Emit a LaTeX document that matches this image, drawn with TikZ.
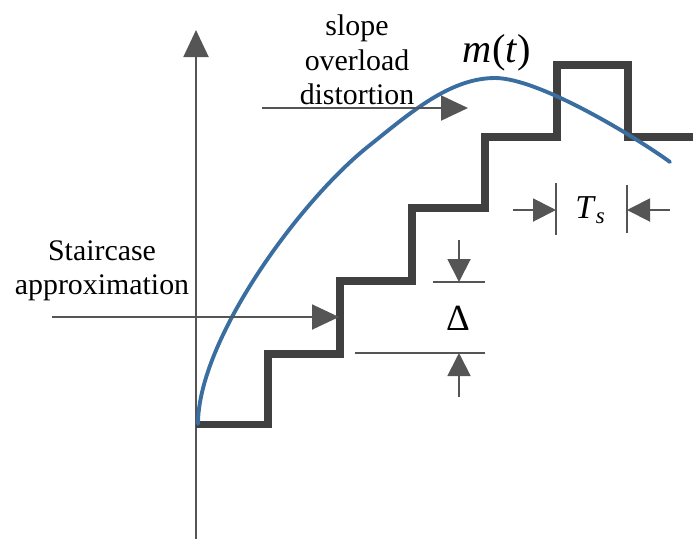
\documentclass[tikz,border=0pt]{standalone}
\usepackage{fontspec}
\setmainfont{Liberation Serif}
\usepackage{tikz}
\usetikzlibrary{arrows.meta}
\definecolor{stairgray}{RGB}{64,64,64}
\definecolor{linegray}{RGB}{85,85,85}
\definecolor{curveblue}{RGB}{58,110,160}
\tikzset{
  thinline/.style={draw=linegray, line width=1.1pt},
  pointer/.style={thinline, -{Triangle[length=5.4mm,width=5mm]}, color=linegray},
  smallpointer/.style={thinline, -{Triangle[length=4.6mm,width=4.6mm]}, color=linegray},
  stair/.style={draw=stairgray, line width=4pt, line join=miter},
  signal/.style={draw=curveblue, line width=2.2pt, line cap=round},
  lbl/.style={align=center, inner sep=0pt, font=\fontsize{17}{19.5}\selectfont}
}

\begin{document}
\begin{tikzpicture}[x=0.02cm, y=-0.02cm]
  \useasboundingbox (0,0) rectangle (693,539);
  \coordinate (axbot) at (196,539);
  \coordinate (axtop) at (196,30);
  \draw[pointer] (axbot) -- (axtop);

  \draw[stair] (196,424) -- (268,424) -- (268,354) -- (340,354) -- (340,281) -- (412,281)
    -- (412,208) -- (485,208) -- (485,137) -- (557,137) -- (557,65) -- (628,65)
    -- (628,137) -- (693,137);

  \draw[signal] (198,424) .. controls (198,340) and (300,200) .. (370,145)
    .. controls (410,113) and (450,78) .. (495,78)
    .. controls (540,78) and (640,140) .. (670,162);

  \node[lbl] (slopelbl) at (357,60) {slope\\overload\\distortion};
  \coordinate (slopestart) at (262,108);
  \coordinate (slopeend) at (468,108);
  \draw[pointer] (slopestart) -- (slopeend);

  \node[lbl] (stairlbl) at (102,271) {Staircase\\approximation};
  \coordinate (stairstart) at (52,317);
  \coordinate (stairend) at (339,317);
  \draw[pointer] (stairstart) -- (stairend);

  \node[anchor=base, inner sep=0pt, font=\fontsize{23}{26}\selectfont] (mlbl) at (497,62) {\textit{m}(\textit{t})};

  \node[inner sep=0pt, font=\fontsize{19}{22}\selectfont] (tslbl) at (590,210)
    {\textit{T}\raisebox{-0.35ex}{\fontsize{13}{15}\selectfont\textit{s}}};
  \coordinate (tsbarLt) at (556,183);
  \coordinate (tsbarLb) at (556,235);
  \coordinate (tsbarRt) at (627,185);
  \coordinate (tsbarRb) at (627,233);
  \coordinate (tsinL) at (513,210);
  \coordinate (tstipL) at (556,210);
  \coordinate (tsinR) at (670,210);
  \coordinate (tstipR) at (627,210);
  \draw[thinline] (tsbarLt) -- (tsbarLb);
  \draw[thinline] (tsbarRt) -- (tsbarRb);
  \draw[smallpointer] (tsinL) -- (tstipL);
  \draw[smallpointer] (tsinR) -- (tstipR);

  \node[inner sep=0pt, font=\fontsize{21}{24}\selectfont] (dlbl) at (458,318) {Δ};
  \coordinate (dupL) at (433,282);
  \coordinate (dupR) at (485,282);
  \coordinate (dlowL) at (355,353);
  \coordinate (dlowR) at (485,353);
  \coordinate (dinT) at (459,240);
  \coordinate (dtipT) at (459,282);
  \coordinate (dinB) at (459,397);
  \coordinate (dtipB) at (459,353);
  \draw[thinline] (dupL) -- (dupR);
  \draw[thinline] (dlowL) -- (dlowR);
  \draw[smallpointer] (dinT) -- (dtipT);
  \draw[smallpointer] (dinB) -- (dtipB);
\end{tikzpicture}
\end{document}
